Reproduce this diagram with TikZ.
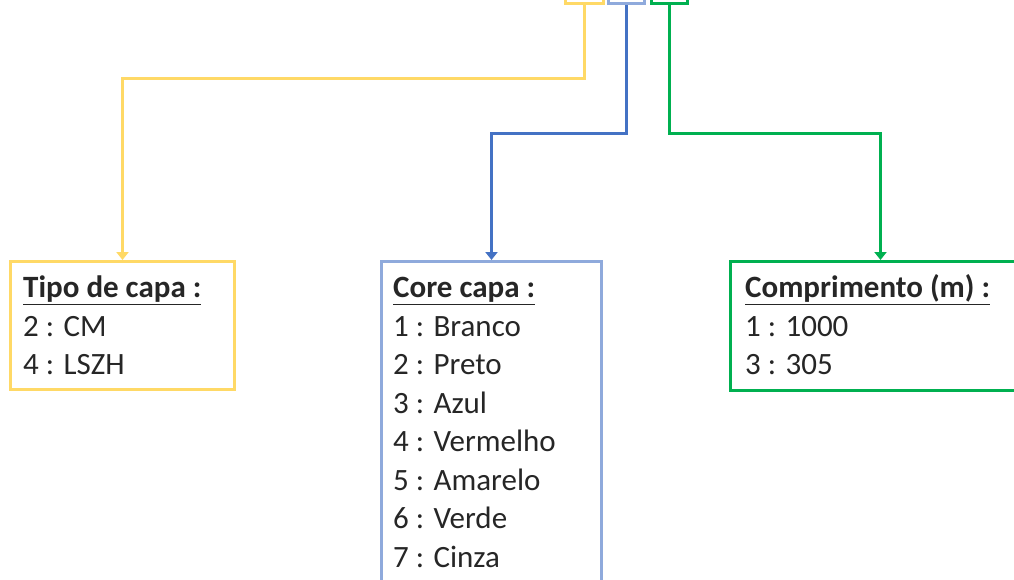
\documentclass[tikz,border=0pt]{standalone}
\usepackage{fontspec}
\setmainfont{Carlito}
\usepackage{tikz}
\usetikzlibrary{arrows.meta}
\definecolor{capayellow}{HTML}{FFD966}
\definecolor{capablue}{HTML}{4472C4}
\definecolor{capalightblue}{HTML}{8FAADC}
\definecolor{capagreen}{HTML}{00B050}
\begin{document}
\begin{tikzpicture}[x=1pt, y=-1pt]
		\tikzset{box/.style={shape = rectangle, draw, line width = 3pt, inner sep = 0pt}}
		\tikzset{txt/.style={font = \fontsize{31}{38.5}\selectfont, text = black!85, inner sep = 0pt, anchor = base west}}
		\tikzset{edge/.style={line width = 3pt, -{Triangle[length = 8pt, width = 12pt]}}}
		\useasboundingbox (0, 0) rectangle (1014, 579);
		%top boxes
		\node[box, capayellow, minimum width = 38, minimum height = 24, anchor = south] (ytop) at (584, 5) {};
		\node[box, capalightblue, minimum width = 36, minimum height = 24, anchor = south] (btop) at (626, 5) {};
		\node[box, capagreen, minimum width = 36, minimum height = 24, anchor = south] (gtop) at (669, 5) {};
		%boxes
		\node[box, capayellow, minimum width = 224, minimum height = 128, anchor = north west] (tipo) at (9, 260) {};
		\node[box, capalightblue, minimum width = 220, minimum height = 340, anchor = north west] (core) at (380, 260) {};
		\node[box, capagreen, minimum width = 300, minimum height = 129, anchor = north west] (comp) at (729, 260) {};
		%texts
		\node[txt] (tipotxt) at (23, 297.5) {\begin{tabular}[t]{@{}l@{}}\underline{\textbf{Tipo de capa :}}\\ 2 : CM\\ 4 : LSZH\end{tabular}};
		\node[txt] (coretxt) at (393, 297.5) {\begin{tabular}[t]{@{}l@{}}\underline{\textbf{Core capa :}}\\ 1 : Branco\\ 2 : Preto\\ 3 : Azul\\ 4 : Vermelho\\ 5 : Amarelo\\ 6 : Verde\\ 7 : Cinza\end{tabular}};
		\node[txt] (comptxt) at (745, 297.5) {\begin{tabular}[t]{@{}l@{}}\underline{\textbf{Comprimento (m) :}}\\ 1 : 1000\\ 3 : 305\end{tabular}};
		%edges
		\draw[edge, capayellow] (ytop.south) -- ++(0, 73) -| (tipo.north);
		\draw[edge, capablue] (btop.south) -- ++(0, 128) -| (core.north);
		\draw[edge, capagreen] (gtop.south) -- ++(0, 128) -| (comp.north);
\end{tikzpicture}
\end{document}
